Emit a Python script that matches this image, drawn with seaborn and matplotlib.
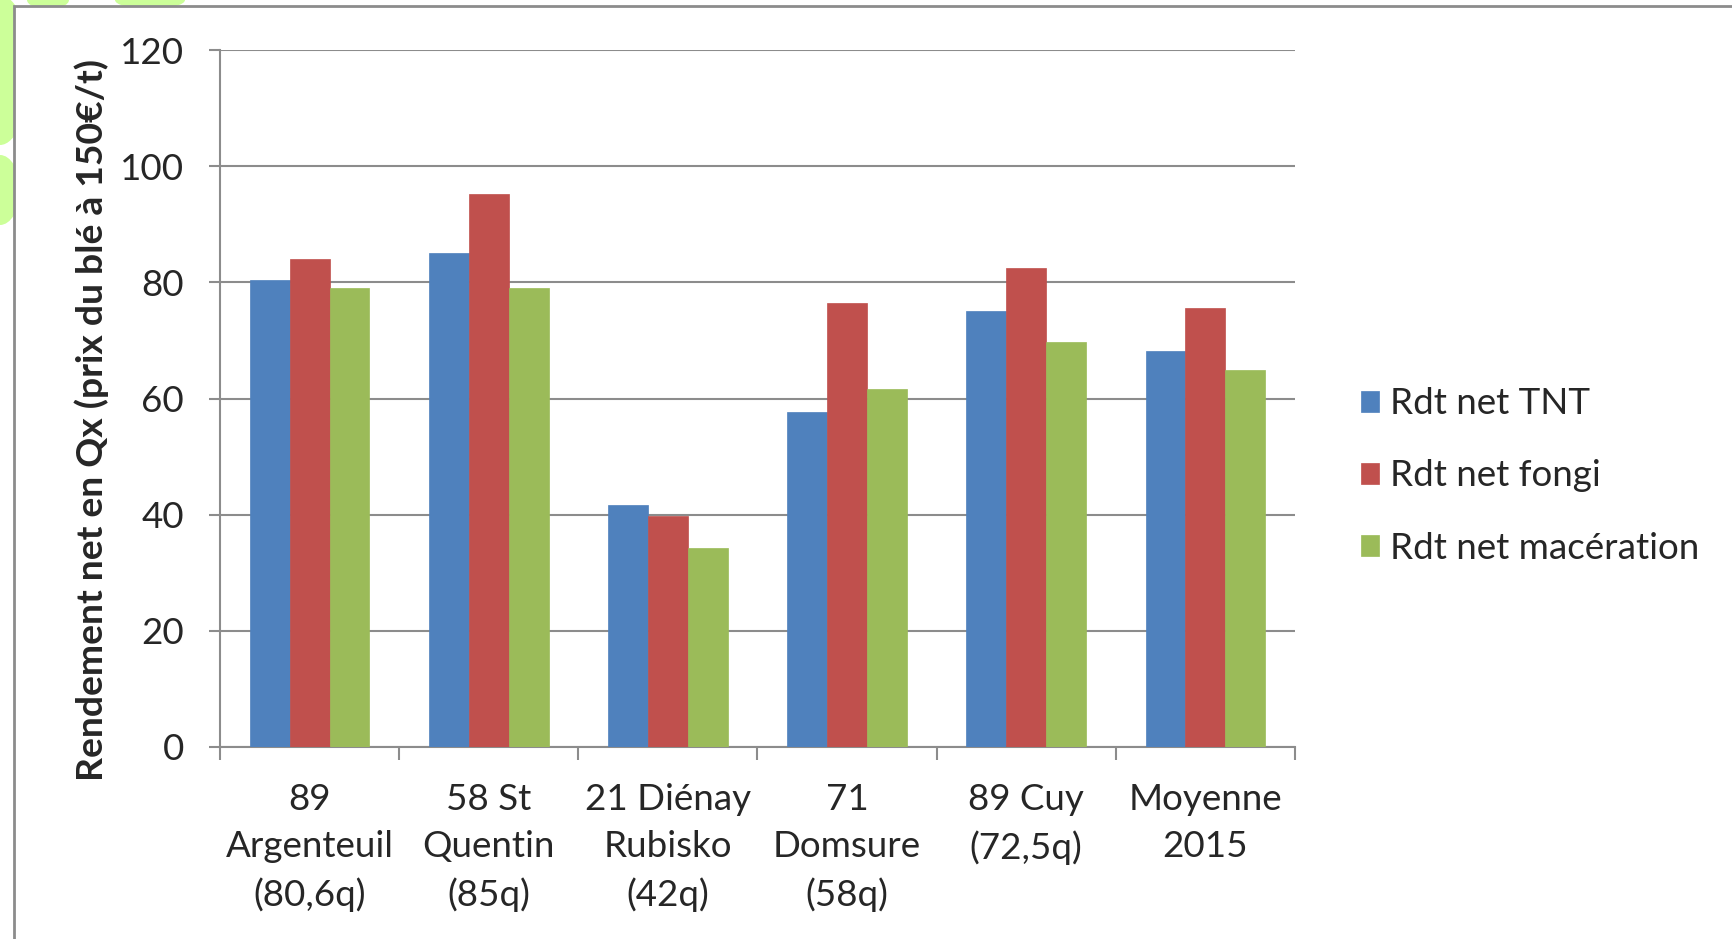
import pandas as pd
import seaborn as sns
import matplotlib.pyplot as plt
from matplotlib.patches import Rectangle, Ellipse

# data
sites = ['89\nArgenteuil\n(80,6q)', '58 St\nQuentin\n(85q)', '21 Diénay\nRubisko\n(42q)',
         '71\nDomsure\n(58q)', '89 Cuy\n(72,5q)', 'Moyenne\n2015']
series = ['Rdt net TNT', 'Rdt net fongi', 'Rdt net macération']
rdt_tnt = [80.4, 85.0, 41.7, 57.7, 75.1, 68.2]
rdt_fongi = [84.0, 95.2, 39.8, 76.5, 82.5, 75.5]
rdt_maceration = [79.1, 79.1, 34.2, 61.7, 69.8, 64.9]
colors = ['#4f81bd', '#c0504d', '#9bbb59']

df = pd.DataFrame({
    'site': sites * 3,
    'serie': [series[0]] * 6 + [series[1]] * 6 + [series[2]] * 6,
    'rdt': rdt_tnt + rdt_fongi + rdt_maceration,
})

sns.set_style('white')
plt.rcParams['font.family'] = ['Lato', 'DejaVu Sans']

W, H = 1733, 939
fig = plt.figure(figsize=(W / 100, H / 100), dpi=100)


def fx(px):
    return px / W


def fy(py):
    return 1 - py / H


# slide background bits (green blobs) and the white chart frame
for cx, cy, ew, eh in [(0, 70, 60, 150), (0, 190, 40, 70), (48, 0, 42, 18), (150, 0, 70, 18)]:
    fig.add_artist(Ellipse((fx(cx), fy(cy)), ew / W, eh / H, facecolor='#ccff99',
                           edgecolor='none', zorder=-3, transform=fig.transFigure))
fig.add_artist(Rectangle((fx(14), -0.05), 1.1, fy(6) + 0.05, facecolor='white',
                         edgecolor='#8c8c8c', lw=2, zorder=-2, transform=fig.transFigure))

ax = fig.add_axes([fx(220), fy(747), fx(1295) - fx(220), fy(50) - fy(747)])
ax.set_facecolor('none')

sns.barplot(data=df, x='site', y='rdt', hue='serie', palette=colors, saturation=1,
            width=0.667, ax=ax, zorder=3)

for bar in ax.patches:
    bar.set_edgecolor(bar.get_facecolor())
    bar.set_linewidth(0.5)

ax.set_ylim(0, 120)
ax.set_yticks(range(0, 121, 20))
ax.set_xlim(-0.5, 5.5)
ax.grid(axis='y', color='#8c8c8c', lw=1.5, zorder=0)
ax.set_axisbelow(True)

for s in ['top', 'right']:
    ax.spines[s].set_visible(False)
for s in ['left', 'bottom']:
    ax.spines[s].set_color('#8c8c8c')
    ax.spines[s].set_linewidth(1.5)

fs = 26.5
ax.tick_params(axis='y', which='major', direction='out', length=8, width=1.5,
               color='#8c8c8c', labelsize=fs, pad=18, left=True)
ax.tick_params(axis='x', which='major', length=0, labelsize=fs, pad=26)
ax.set_xticks([i - 0.5 for i in range(7)], minor=True)
ax.tick_params(axis='x', which='minor', direction='out', length=9, width=1.5,
               color='#8c8c8c', bottom=True)
for lab in ax.get_xticklabels():
    lab.set_linespacing(1.5)

ax.set_xlabel('')
ax.set_ylabel('Rendement net en Qx (prix du blé à 150€/t)', fontsize=26.8, fontweight='bold')
ax.yaxis.set_label_coords(-0.103, 0.469)

handles, labels = ax.get_legend_handles_labels()
ax.legend(handles, labels, loc='center left', bbox_to_anchor=(fx(1361), fy(476)),
          bbox_transform=fig.transFigure, frameon=False, fontsize=fs,
          handlelength=0.49, handleheight=0.49, handletextpad=0.3,
          labelspacing=1.06, borderpad=0, borderaxespad=0)

fig.savefig('out.png', dpi=100)
